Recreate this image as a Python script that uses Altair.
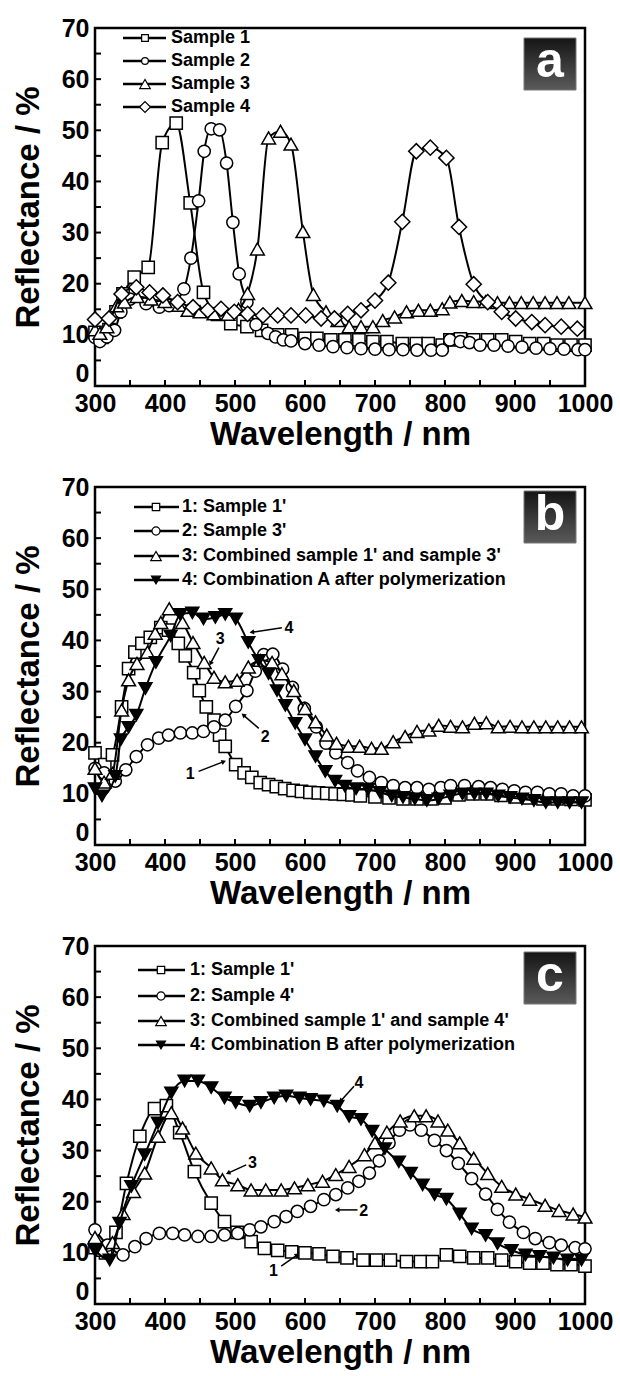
import math
import altair as alt
import pandas as pd

W, H = 490, 358
FONT = "Liberation Sans"
X_DOMAIN = [300, 1000]
Y_DOMAIN = [0, 70]
X_LABELS = [300, 400, 500, 600, 700, 800, 900, 1000]
Y_LABELS = [0, 10, 20, 30, 40, 50, 60, 70]
X_TICKS = list(range(300, 1001, 50))
Y_TICKS = list(range(0, 71, 5))

# ---------------- Panel a ----------------
A1_X = [300, 310, 320, 330, 340, 356, 376, 396, 416, 436, 455, 475, 494, 517, 538, 561, 581, 600, 617, 637, 657, 677, 697, 717, 739, 759, 776, 796, 807, 822, 841, 861, 881, 901, 921, 941, 960, 980, 1000]
A1_Y = [10.5, 9.5, 11, 14.5, 18, 21.3, 23.2, 47.6, 51.4, 35.8, 18.3, 14, 12.2, 11.6, 10.9, 10, 10, 9.3, 9.3, 9, 9, 9, 8.7, 8.7, 8.3, 8.3, 8.3, 8.0, 9, 9.2, 9, 9, 9, 8.7, 8.3, 8.3, 8, 8, 8]
A2_X = [300, 307, 317, 328, 337, 350, 373, 392, 406, 427, 437, 448, 456, 466, 478, 488, 497, 506, 517, 530, 547, 558, 569, 580, 600, 620, 640, 660, 680, 700, 720, 740, 760, 780, 796, 807, 822, 835, 850, 870, 890, 910, 930, 950, 970, 990, 1000]
A2_Y = [9.5, 8.7, 9.6, 10.9, 14.5, 17, 16.1, 15.4, 15.7, 19, 25, 36.2, 45.9, 50.3, 50.1, 43.6, 32, 21.9, 16.4, 12, 10.3, 9.6, 9, 8.8, 8.3, 8, 7.7, 7.5, 7.3, 7.2, 7.1, 7.1, 7.0, 7.0, 7.0, 9, 8.7, 8.5, 8.0, 8, 7.8, 7.6, 7.4, 7.3, 7.2, 7.1, 7.1]
A3_X = [300, 307, 317, 331, 342, 360, 380, 400, 420, 433, 450, 470, 490, 505, 518, 532, 548, 565, 580, 597, 612, 630, 647, 663, 680, 697, 711, 728, 745, 762, 779, 796, 807, 824, 841, 858, 875, 892, 909, 926, 943, 960, 977, 1000]
A3_Y = [11, 10.3, 11.6, 15.7, 16.4, 17.5, 17, 16.5, 15.8, 14.8, 14.5, 14.1, 14, 15, 18.1, 26.8, 48.5, 49.8, 47.3, 30.2, 17.9, 14.5, 12.8, 11.6, 11.6, 11.6, 12.8, 13.5, 14.5, 14.8, 14.8, 15.1, 16.4, 16.7, 16.5, 16.5, 16.3, 16.3, 16.3, 16.3, 16.3, 16.3, 16.3, 16.3]
A4_X = [300, 320, 338, 359, 378, 397, 418, 440, 461, 480, 499, 518, 540, 561, 580, 601, 623, 642, 661, 680, 700, 719, 739, 759, 779, 802, 820, 841, 861, 881, 901, 924, 943, 966, 989]
A4_Y = [13, 13.2, 18, 19.3, 18.3, 17.7, 16.4, 15.4, 14.8, 15.1, 14.5, 14.1, 13.8, 13.8, 13.8, 13.8, 13.2, 13.2, 14.1, 14.8, 16.7, 20.2, 32.1, 45.9, 46.6, 44.6, 31.1, 19.9, 16.4, 14.5, 13.2, 12.5, 11.9, 11.6, 11.2]
A_NAMES = ["Sample 1", "Sample 2", "Sample 3", "Sample 4"]

# ---------------- Panel b ----------------
B1_X = [300, 314, 325, 338, 348, 357, 367, 379, 394, 405, 419, 429, 441, 449, 459, 470, 478, 486, 501, 513, 524, 536, 548, 559, 571, 583, 595, 607, 619, 631, 643, 655, 667, 679, 700, 720, 740, 760, 780, 800, 820, 840, 860, 880, 900, 920, 940, 960, 980, 1000]
B1_Y = [18, 15.7, 17.6, 27, 34.5, 37.7, 39.4, 40.6, 42.5, 42, 39.4, 37, 33.7, 30.2, 27, 24.4, 21.5, 19.3, 15.7, 14.1, 13.2, 12.2, 11.8, 11.4, 11, 10.7, 10.5, 10.3, 10.2, 10.1, 10, 9.9, 9.8, 9.6, 9.4, 9.2, 9, 9, 9, 9.2, 9.8, 10, 10, 9.7, 9.4, 9.2, 9, 9, 8.9, 8.8]
B2_X = [300, 313, 329, 344, 359, 375, 391, 405, 422, 439, 455, 470, 486, 501, 517, 529, 541, 554, 568, 582, 599, 616, 630, 644, 661, 675, 692, 709, 726, 743, 760, 777, 794, 808, 828, 848, 865, 882, 899, 915, 932, 949, 966, 983, 1000]
B2_Y = [15, 14.1, 12.5, 14.7, 17.3, 19.6, 20.9, 21.5, 21.9, 21.9, 22.2, 23.1, 24.4, 27.1, 30.2, 34, 37.2, 37.3, 34.4, 30.8, 26.7, 23.1, 19.9, 18, 16.1, 14.5, 13.2, 12.2, 11.6, 11.2, 11.2, 10.9, 11.2, 11.6, 11.6, 11.4, 11.2, 10.9, 10.6, 10.3, 10.3, 10, 10, 9.6, 9.6]
B3_X = [300, 313, 325, 338, 348, 360, 375, 386, 394, 406, 425, 440, 456, 470, 486, 503, 519, 536, 553, 567, 584, 600, 615, 631, 645, 662, 678, 695, 709, 726, 743, 760, 777, 791, 808, 825, 842, 859, 876, 893, 910, 927, 944, 961, 978, 995]
B3_Y = [15, 12.3, 14, 26.4, 32.3, 35.5, 37.7, 41.4, 43.5, 46.2, 43.5, 39.6, 35.7, 32.8, 31.9, 32.2, 34.8, 36.1, 35.7, 33.5, 30.2, 26.7, 24.1, 21.5, 19.9, 19.3, 19.3, 18.9, 18.9, 20.2, 21.2, 22.2, 22.5, 23.4, 23.2, 23.1, 23.8, 23.9, 23.1, 23.2, 23.1, 23.1, 23.1, 23.1, 23.1, 23.1]
B4_X = [300, 310, 329, 337, 348, 359, 372, 387, 408, 422, 439, 455, 472, 486, 501, 519, 534, 548, 560, 572, 586, 600, 615, 629, 643, 657, 673, 690, 707, 724, 740, 757, 774, 791, 808, 825, 842, 859, 876, 893, 910, 927, 944, 961, 978, 995]
B4_Y = [11, 9.6, 13.4, 20.6, 23, 25.4, 30.6, 35.7, 40.9, 45.1, 45.4, 44.2, 44.5, 45.1, 44.2, 39.6, 36.1, 33.5, 30.2, 27.3, 23.8, 20.6, 17.3, 14.4, 12.5, 11.5, 11, 10.9, 10.3, 9.6, 9.3, 9, 8.7, 9, 9.6, 10, 10, 10, 9.6, 9.3, 9, 8.7, 8.3, 8.3, 8.3, 8.3]
B_NAMES = ["1: Sample 1'", "2: Sample 3'", "3: Combined sample 1' and sample 3'", "4: Combination A after polymerization"]
B_ANN_TEXT = ["1", "2", "3", "4"]
B_ANN_TX = [436, 543, 479, 577]
B_ANN_TY = [13.8, 21.2, 40.3, 42.5]
B_ARR_X1 = [448, 534, 477, 567]
B_ARR_Y1 = [14.4, 22.8, 38.6, 42.5]
B_ARR_X2 = [484, 512, 465, 524]
B_ARR_Y2 = [16.3, 25.4, 35.5, 41.6]

# ---------------- Panel c ----------------
C1_X = [300, 315, 330, 345, 364, 385, 402, 421, 442, 466, 485, 503, 523, 542, 561, 581, 600, 620, 640, 660, 683, 702, 722, 745, 765, 782, 802, 821, 841, 861, 881, 901, 921, 940, 960, 980, 1000]
C1_Y = [11, 10, 14, 23.6, 32.8, 38.2, 38.8, 33.5, 25.9, 19.7, 16.1, 14, 12.2, 10.9, 10.5, 10.2, 10, 9.8, 9.3, 9, 8.6, 8.6, 8.6, 8.3, 8.3, 8.3, 9.6, 9.3, 9, 9, 8.6, 8.3, 8, 8, 7.7, 7.7, 7.4]
C2_X = [300, 318, 340, 357, 373, 392, 411, 428, 447, 466, 485, 504, 521, 537, 556, 573, 589, 608, 627, 644, 661, 677, 692, 706, 720, 735, 750, 766, 785, 802, 819, 838, 858, 875, 892, 912, 929, 949, 966, 986, 1000]
C2_Y = [14.5, 11.5, 9.6, 11.2, 12.8, 13.8, 13.8, 13.5, 13.2, 13.2, 13.5, 13.8, 14.5, 15.1, 16.1, 17.1, 18.1, 19.1, 20.4, 21.4, 22.7, 24, 25.6, 28, 31.5, 34, 35, 34, 32, 30, 27.5, 24.5, 21.5, 18.5, 16, 14, 12.8, 12, 11.5, 11, 10.8]
C3_X = [300, 311, 325, 340, 355, 371, 390, 409, 425, 444, 466, 482, 504, 523, 544, 566, 585, 604, 625, 644, 663, 685, 700, 717, 736, 756, 773, 790, 804, 821, 841, 861, 881, 901, 921, 943, 963, 983, 1000]
C3_Y = [13, 10.5, 12, 17.7, 22, 25.6, 32.8, 37.4, 34.4, 29.5, 26.6, 24.3, 23.3, 22.3, 22.3, 22.3, 22.7, 23.3, 24, 25.3, 26.9, 29.2, 31.5, 33.6, 35.8, 36.8, 36.8, 35.8, 34, 31.5, 28.5, 25.5, 23, 21.5, 20.5, 19.3, 18.3, 17.6, 17]
C4_X = [300, 321, 335, 352, 371, 390, 409, 428, 447, 466, 485, 501, 521, 537, 556, 573, 592, 608, 627, 646, 663, 680, 696, 714, 734, 751, 768, 785, 802, 821, 838, 858, 875, 895, 915, 935, 955, 975, 995]
C4_Y = [10.5, 8.6, 15.8, 23, 29.2, 35.4, 41.3, 43.6, 43.6, 42.3, 40.3, 39.4, 38.7, 39.4, 40.3, 40.7, 40.3, 40, 39.7, 38.7, 36.7, 36.1, 33.8, 30.4, 27.8, 25.6, 23.3, 21.4, 20.5, 17.6, 14.7, 13.4, 11.8, 10.5, 9.6, 9.3, 9, 8.6, 8.6]
C_NAMES = ["1: Sample 1'", "2: Sample 4'", "3: Combined sample 1' and sample 4'", "4: Combination B after polymerization"]
C_ANN_TEXT = ["1", "2", "3", "4"]
C_ANN_TX = [555, 684, 525, 677]
C_ANN_TY = [6.4, 18.1, 27.6, 43.3]
C_ARR_X1 = [566, 675, 516, 670]
C_ARR_Y1 = [7.4, 18.4, 27.2, 42.6]
C_ARR_X2 = [589, 646, 490, 651]
C_ARR_Y2 = [9.6, 18.4, 25.6, 39.7]

# marker styles (shape, fill, size in plot, size in legend)
STYLE_A = [("square", "white", 150, 45), ("circle", "white", 150, 45),
           ("triangle-up", "white", 190, 110), ("diamond", "white", 230, 120)]
STYLE_BC = [("square", "white", 150, 55), ("circle", "white", 150, 65),
            ("triangle-up", "white", 190, 110), ("triangle-down", "black", 170, 80)]

XS = alt.Scale(domain=X_DOMAIN, nice=False, zero=False)
YS = alt.Scale(domain=Y_DOMAIN, nice=False, zero=False)
X_AXIS = alt.Axis(values=X_LABELS, title="Wavelength / nm", labelPadding=5, titlePadding=2, format="d")
Y_AXIS = alt.Axis(values=Y_LABELS, title="Reflectance / %", labelPadding=6, titlePadding=16, format="d",
                  labelBaseline={"condition": {"test": "datum.value === 0", "value": "bottom"},
                                 "value": "middle"})
DUMMY = pd.DataFrame({"d": [0]})


def xenc(field="x"):
    return alt.X(f"{field}:Q", scale=XS, axis=X_AXIS)


def yenc(field="y"):
    return alt.Y(f"{field}:Q", scale=YS, axis=Y_AXIS)


def make_panel(xs, ys, names, styles, letter, box_top, leg_rows, leg_line, leg_mark, leg_text, ann=None):
    layers = []
    # inward ticks
    layers.append(alt.Chart(pd.DataFrame({"x": X_TICKS})).mark_rule(color="black", strokeWidth=2)
                  .encode(x=xenc(), y=alt.value(H), y2=alt.value(H - 6)))
    layers.append(alt.Chart(pd.DataFrame({"y": Y_TICKS})).mark_rule(color="black", strokeWidth=2)
                  .encode(y=yenc(), x=alt.value(0), x2=alt.value(6)))
    # series
    for x, y, (shape, fill, size, _) in zip(xs, ys, styles):
        df = pd.DataFrame({"x": x, "y": y})
        base = alt.Chart(df)
        layers.append(base.mark_line(color="black", strokeWidth=2, interpolate="monotone")
                      .encode(x=xenc(), y=yenc()))
        layers.append(base.mark_point(shape=shape, filled=True, fill=fill, stroke="black",
                                      strokeWidth=1.5, size=size, opacity=1)
                      .encode(x=xenc(), y=yenc()))
    # legend
    for name, yy, (shape, fill, _, lsize) in zip(names, leg_rows, styles):
        layers.append(alt.Chart(DUMMY).mark_rule(color="black", strokeWidth=2.5)
                      .encode(x=alt.value(leg_line[0]), x2=alt.value(leg_line[1]), y=alt.value(yy)))
        layers.append(alt.Chart(DUMMY).mark_point(shape=shape, filled=True, fill=fill, stroke="black",
                                                  strokeWidth=1.2, size=lsize, opacity=1)
                      .encode(x=alt.value(leg_mark), y=alt.value(yy)))
        layers.append(alt.Chart(DUMMY).mark_text(text=name, align="left", baseline="middle", font=FONT,
                                                 fontWeight="bold", fontSize=18, color="black")
                      .encode(x=alt.value(leg_text), y=alt.value(yy)))
    # letter box
    grad = alt.LinearGradient(gradient="linear", x1=0, x2=0, y1=0, y2=1,
                              stops=[alt.GradientStop(color="#151515", offset=0),
                                     alt.GradientStop(color="#5a5a5a", offset=1)])
    layers.append(alt.Chart(DUMMY).mark_rect(color=grad, stroke="#777", strokeWidth=1)
                  .encode(x=alt.value(429), x2=alt.value(481), y=alt.value(box_top), y2=alt.value(box_top + 52)))
    layers.append(alt.Chart(DUMMY).mark_text(text=letter, align="center", baseline="middle", font=FONT,
                                             fontWeight="bold", fontSize=50, color="white", dy=-2)
                  .encode(x=alt.value(455), y=alt.value(box_top + 26)))
    # annotations
    if ann is not None:
        txt, tx, ty, x1, y1, x2, y2 = ann
        adf = pd.DataFrame({"t": txt, "tx": tx, "ty": ty, "x1": x1, "y1": y1, "x2": x2, "y2": y2})
        ang = []
        for a, b, c, d in zip(x1, y1, x2, y2):
            sx = (c - a) / (X_DOMAIN[1] - X_DOMAIN[0]) * W
            sy = -(d - b) / (Y_DOMAIN[1] - Y_DOMAIN[0]) * H
            ang.append((math.degrees(math.atan2(sx, -sy)) + 360) % 360)
        adf["ang"] = ang
        ab = alt.Chart(adf)
        layers.append(ab.mark_rule(color="black", strokeWidth=1.5)
                      .encode(x=xenc("x1"), x2="x2:Q", y=yenc("y1"), y2="y2:Q"))
        layers.append(ab.mark_point(shape="triangle-up", filled=True, color="black", size=28, opacity=1)
                      .encode(x=xenc("x2"), y=yenc("y2"), angle=alt.Angle("ang:Q", scale=None)))
        layers.append(ab.mark_text(font=FONT, fontWeight="bold", fontSize=16, color="black")
                      .encode(x=xenc("tx"), y=yenc("ty"), text="t:N"))
    return alt.layer(*layers).properties(width=W, height=H)


pa = make_panel([A1_X, A2_X, A3_X, A4_X], [A1_Y, A2_Y, A3_Y, A4_Y], A_NAMES, STYLE_A, "a", 10,
                [10, 33, 56, 79], (28, 71), 50, 76)
pb = make_panel([B1_X, B2_X, B3_X, B4_X], [B1_Y, B2_Y, B3_Y, B4_Y], B_NAMES, STYLE_BC, "b", 4,
                [20, 44, 69, 93], (39, 84), 61, 87,
                (B_ANN_TEXT, B_ANN_TX, B_ANN_TY, B_ARR_X1, B_ARR_Y1, B_ARR_X2, B_ARR_Y2))
pc = make_panel([C1_X, C2_X, C3_X, C4_X], [C1_Y, C2_Y, C3_Y, C4_Y], C_NAMES, STYLE_BC, "c", 6,
                [24, 50, 75, 99], (43, 90), 66, 95,
                (C_ANN_TEXT, C_ANN_TX, C_ANN_TY, C_ARR_X1, C_ARR_Y1, C_ARR_X2, C_ARR_Y2))

chart = (alt.vconcat(pa, pb, pc, spacing=20)
         .properties(padding={"left": 10, "top": 14, "right": 0, "bottom": 0}, background="white")
         .configure_view(stroke="black", strokeWidth=2.5)
         .configure_axis(labelFont=FONT, titleFont=FONT, labelFontWeight="bold", titleFontWeight="bold",
                         labelColor="black", titleColor="black", labelFontSize=25, titleFontSize=33,
                         grid=False, ticks=False, domain=False, labelFlush=False, labelOverlap=False))

chart.save("out.html", embed_options={"renderer": "svg", "actions": False})
